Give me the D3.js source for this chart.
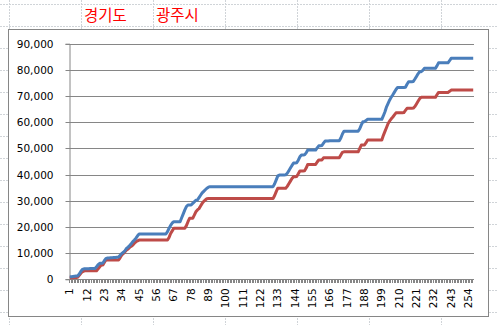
<!DOCTYPE html>
<html>
<head>
<meta charset="utf-8">
<title>경기도 광주시</title>
<script src="https://d3js.org/d3.v7.min.js"></script>
<style>
  body { margin: 0; background: #fff; }
  svg { display: block; }
</style>
</head>
<body>
<svg id="mainsvg" width="497" height="325"></svg>
<script>
// ---------- data ----------
const seriesNames = ["경기도", "광주시"];
const categories = d3.range(1, 258);  // 1 .. 257
const tickLabels = [1, 12, 23, 34, 45, 56, 67, 78, 89, 100, 111, 122, 133, 144, 155, 166, 177, 188, 199, 210, 221, 232, 243, 254];
const yTicks = [0, 10000, 20000, 30000, 40000, 50000, 60000, 70000, 80000, 90000];

// 경기도 (blue)
const gyeonggi = [
  1000, 1000, 1100, 1200, 1300, 1300,
  2000, 3000, 3800,
  4000, 4000, 4000, 4000, 4100, 4100, 4100, 4100,
  4800, 5600, 6100, 6100, 6200, 7200,
  8000, 8100, 8100, 8200, 8200, 8300, 8300, 8400, 8500,
  9200, 9900, 10300, 10900, 11800, 12300, 12900, 13600, 14400, 15000, 15700, 16600,
  17300, 17300, 17300, 17300, 17300, 17300, 17300, 17300, 17300, 17300, 17300, 17300, 17300, 17300, 17300, 17300, 17300, 17300,
  18200, 19500, 20600, 21500,
  22000, 22000, 22000, 22000, 22000,
  23500, 25000, 26500, 27800, 28400, 28400, 28400,
  29000, 29600, 30200, 30300, 31200, 32100, 33000, 33600, 34200, 34800, 35200, 35400,
  35400, 35400, 35400, 35400, 35400, 35400, 35400, 35400, 35400, 35400,
  35400, 35400, 35400, 35400, 35400, 35400, 35400, 35400, 35400, 35400,
  35400, 35400, 35400, 35400, 35400, 35400, 35400, 35400, 35400, 35400,
  35400, 35400, 35400, 35400, 35400, 35400, 35400, 35400, 35400, 35400,
  36500, 38000, 39500, 39800, 39800, 39800, 39800, 39900, 40500,
  41500, 42500, 43500, 44400, 44400, 44500, 45500,
  46800, 47500, 47500, 47600, 48300,
  49400, 49400, 49400, 49400, 49400, 49400,
  50200, 51000, 51000, 51100,
  52000, 52800, 52800, 52800, 52900,
  52900, 52900, 52900, 52900, 52900, 52900,
  54000, 55500, 56600,
  56600, 56600, 56600, 56600, 56600, 56600, 56600, 56600, 56600,
  57500, 59000, 60200, 60200, 60700,
  61100, 61100, 61100, 61100, 61100, 61100, 61100, 61100, 61100, 61100,
  62500, 64000, 65900, 67200, 68500, 69600, 70500,
  71500, 72500, 73300, 73300, 73300, 73300, 73300, 73400,
  74500, 75500, 75500, 75500, 75600,
  76500, 77500, 78500, 79300, 79300, 79800, 80600,
  80600, 80600, 80600, 80600, 80600, 80600, 80600,
  81500, 82700, 82700, 82700, 82700, 82700, 82700, 82700,
  83500, 84400, 84400, 84400, 84400, 84400, 84400, 84400, 84400, 84400, 84400, 84400, 84400, 84400, 84400, 84400
];

// 광주시 (red)
const gwangju = [
  500, 600, 600, 700, 700, 800,
  1500, 2300, 2900, 3100,
  3300, 3300, 3300, 3300, 3300, 3300, 3300, 3300,
  4000, 4800, 5500, 5500, 6500,
  7400, 7400, 7400, 7400, 7400, 7400, 7400, 7400, 7400,
  8300, 9300, 9800, 10500, 11200, 11600, 12200, 12600, 13100, 13800, 14300, 14700,
  15000, 15000, 15000, 15000, 15000, 15000, 15000, 15000, 15000, 15000, 15000, 15000, 15000, 15000, 15000, 15000, 15000, 15000, 15000,
  16000, 17500, 18500, 19500, 19500,
  19500, 19500, 19500, 19500, 19500, 19500,
  20500, 22000, 23300, 23300, 23300,
  24500, 25800, 26500, 27000, 28000, 29000, 29800, 30300, 30800, 30900, 30900,
  30900, 30900, 30900, 30900, 30900, 30900, 30900, 30900, 30900, 30900,
  30900, 30900, 30900, 30900, 30900, 30900, 30900, 30900, 30900, 30900,
  30900, 30900, 30900, 30900, 30900, 30900, 30900, 30900, 30900, 30900,
  30900, 30900, 30900, 30900, 30900, 30900, 30900, 30900, 30900, 30900,
  32000, 33500, 34800, 34800, 34800, 34800, 34800, 34800, 35500,
  36500, 37500, 38500, 39200, 39200, 39300, 40300,
  41400, 41400, 41400, 41500, 42500,
  43900, 43900, 43900, 43900, 43900, 43900,
  44800, 45600, 45600, 45600,
  46400, 46400, 46400, 46400, 46400,
  46400, 46400, 46400, 46400, 46400, 46400,
  47500, 48500, 48700,
  48700, 48700, 48700, 48700, 48700, 48700, 48700, 48700, 48700,
  50000, 51300, 51300, 51300, 52200,
  53200, 53200, 53200, 53200, 53200, 53200, 53200, 53200, 53200, 53200,
  55000, 56500, 58000, 59500, 60500, 61300, 62000,
  62800, 63600, 63600, 63600, 63600, 63600, 63700, 64500,
  65300, 65300, 65300, 65300, 65400,
  66000, 67000, 68000, 69000, 69500,
  69500, 69500, 69500, 69500, 69500, 69500, 69500, 69500, 69500,
  70500, 71400, 71400, 71400, 71400, 71400, 71400, 71400,
  71800, 72300, 72300, 72300, 72300, 72300, 72300, 72300, 72300, 72300, 72300, 72300, 72300, 72300, 72300, 72300
];

// ---------- sheet background ----------
const svg = d3.select("#mainsvg");
const W = +svg.attr("width"), H = +svg.attr("height");

const colXs = [9.5, 81.5, 153.5, 225.5, 297.5, 369.5, 441.5];
const rowYs = d3.range(4.5, H, 22);
const sheet = svg.append("g");
sheet.selectAll(".col").data(colXs).join("line")
  .attr("x1", d => d).attr("x2", d => d).attr("y1", 0).attr("y2", H)
  .attr("stroke", "#d0d4d8").attr("stroke-dasharray", "2,1");
sheet.selectAll(".row").data(rowYs).join("line")
  .attr("x1", 0).attr("x2", W).attr("y1", d => d).attr("y2", d => d)
  .attr("stroke", "#d0d4d8").attr("stroke-dasharray", "2,1");

// header cells with series names
svg.selectAll(".hdr").data(seriesNames).join("text")
  .attr("x", (d, i) => colXs[1 + i] + 2.5)
  .attr("y", 21)
  .attr("fill", "#ff0000")
  .attr("font-family", "'Noto Sans CJK KR', sans-serif")
  .attr("font-size", "15.5px")
  .text(d => d);

// chart box
svg.append("rect")
  .attr("x", 8.5).attr("y", 29.5).attr("width", 480).attr("height", 287)
  .attr("fill", "#fff").attr("stroke", "#868686");

// ---------- plot ----------
const plot = {left: 69, right: 474, top: 43.7, bottom: 279.3};

const x = d3.scaleBand().domain(categories).range([plot.left, plot.right]).padding(0);
const y = d3.scaleLinear().domain([0, 90000]).range([plot.bottom, plot.top]);

const g = svg.append("g");

// horizontal gridlines
g.selectAll(".grid").data(yTicks.slice(1)).join("line")
  .attr("x1", plot.left).attr("x2", plot.right)
  .attr("y1", d => Math.round(y(d)) + 0.5).attr("y2", d => Math.round(y(d)) + 0.5)
  .attr("stroke", "#868686");

// y axis
const yAxis = d3.axisLeft(y).tickValues(yTicks).tickSize(4).tickPadding(12)
  .tickFormat(d3.format(","));
const yG = g.append("g").attr("transform", `translate(${plot.left + 0.5},0)`).call(yAxis);
yG.select(".domain").attr("stroke", "#868686");
yG.selectAll(".tick line").attr("stroke", "#868686");
yG.selectAll(".tick").attr("transform", d => `translate(0,${Math.round(y(d)) + 0.5})`);
yG.selectAll("text").attr("font-family", "'DejaVu Sans', sans-serif").attr("font-size", "10.5px").attr("fill", "#000");

// x axis: baseline, tick marks at every category edge, labels every 11th
const xG = g.append("g");
xG.append("line")
  .attr("x1", plot.left).attr("x2", plot.right)
  .attr("y1", Math.round(y(0)) + 0.5).attr("y2", Math.round(y(0)) + 0.5)
  .attr("stroke", "#868686");
xG.selectAll(".xt").data(categories).join("line")
  .attr("x1", d => Math.round(x(d)) + 0.5).attr("x2", d => Math.round(x(d)) + 0.5)
  .attr("y1", Math.round(y(0))).attr("y2", Math.round(y(0)) + 4)
  .attr("stroke", "#868686");
xG.selectAll(".xl").data(tickLabels).join("text")
  .attr("transform", d => `translate(${x(d) + x.bandwidth() / 2 + 3.5},${y(0) + 9}) rotate(-90)`)
  .attr("text-anchor", "end")
  .attr("font-family", "'DejaVu Sans', sans-serif")
  .attr("font-size", "10.5px")
  .text(d => d);

// lines
const line = d3.line()
  .x((d, i) => x(categories[i]) + x.bandwidth() / 2)
  .y(d => y(d));

g.append("path").datum(gwangju)
  .attr("d", line).attr("fill", "none")
  .attr("stroke", "#be4b48").attr("stroke-width", 3).attr("stroke-linejoin", "round");
g.append("path").datum(gyeonggi)
  .attr("d", line).attr("fill", "none")
  .attr("stroke", "#4a7ebb").attr("stroke-width", 3).attr("stroke-linejoin", "round");
</script>
</body>
</html>
